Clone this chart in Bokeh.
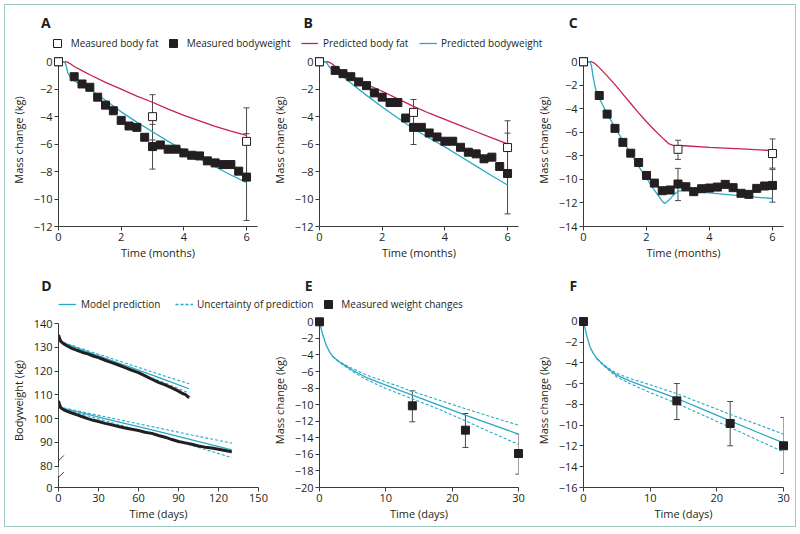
from bokeh.plotting import figure
from bokeh.layouts import column, row
from bokeh.models import (Range1d, Legend, LegendItem, Label, Whisker, TeeHead,
                          ColumnDataSource, FixedTicker, BoxAnnotation, Arrow)
from bokeh.embed import file_html
from bokeh.resources import INLINE

# ---------------- data: panels A-C (time in months, mass change in kg) ----------------
MONTHS_MEAS = [0, 0.5, 0.75, 1.0, 1.25, 1.5, 1.75, 2.0, 2.25, 2.5, 2.75, 3.0,
               3.25, 3.5, 3.75, 4.0, 4.25, 4.5, 4.75, 5.0, 5.25, 5.5, 5.75, 6.0]
FAT_T = [0, 3, 6]
ERR_T = [3, 6]

A_T_PRED = [0, 0.2, 0.25, 0.3, 0.38, 0.5, 0.75, 1, 1.5, 2, 2.5, 3, 3.5, 4, 4.5, 5, 5.5, 6]
A_PRED_WEIGHT = [0, 0, -0.35, -0.8, -1.15, -1.4, -1.7, -2.0, -2.8, -3.65, -4.4, -5.1,
                 -5.8, -6.45, -7.05, -7.65, -8.25, -8.8]
A_PRED_FAT = [0, 0, 0, -0.05, -0.15, -0.35, -0.65, -0.95, -1.5, -2.0, -2.5, -2.95,
              -3.45, -3.9, -4.3, -4.7, -5.05, -5.36]
A_MEAS_WEIGHT = [0, -1.09, -1.62, -1.86, -2.58, -3.16, -3.57, -4.27, -4.68, -4.78, -5.5,
                 -6.18, -6.06, -6.37, -6.37, -6.64, -6.81, -6.86, -7.22, -7.37, -7.49,
                 -7.49, -7.97, -8.4]
A_MEAS_FAT = [0, -4.0, -5.8]
A_FAT_LO, A_FAT_HI = [-5.7, -8.25], [-2.4, -3.36]
A_WT_LO, A_WT_HI = [-7.82, -11.56], [-4.56, -5.24]

B_T_PRED = [0, 0.2, 0.25, 0.3, 0.4, 0.5, 0.75, 1, 1.5, 2, 2.5, 3, 3.5, 4, 4.5, 5, 5.5, 6]
B_PRED_WEIGHT = [0, 0, -0.15, -0.35, -0.55, -0.7, -1.1, -1.55, -2.45, -3.3, -4.1, -4.88,
                 -5.55, -6.2, -6.9, -7.6, -8.3, -8.98]
B_PRED_FAT = [0, 0, 0, -0.03, -0.15, -0.35, -0.7, -1.05, -1.65, -2.15, -2.7, -3.25,
              -3.75, -4.2, -4.65, -5.1, -5.55, -5.98]
B_MEAS_WEIGHT = [0, -0.63, -0.87, -1.09, -1.47, -1.74, -2.27, -2.58, -2.97, -2.97, -4.1,
                 -4.78, -4.78, -5.19, -5.48, -5.79, -5.79, -6.23, -6.59, -6.71, -7.07,
                 -6.95, -7.63, -8.14]
B_MEAS_FAT = [0, -3.69, -6.25]
B_FAT_LO, B_FAT_HI = [-4.63, -8.2], [-2.75, -4.3]
B_WT_LO, B_WT_HI = [-6.03, -11.08], [-3.53, -5.2]

C_T_PRED = [0, 0.2, 0.25, 0.3, 0.38, 0.5, 0.75, 1, 1.25, 1.5, 1.75, 2, 2.25, 2.5, 2.58,
            2.7, 2.85, 3, 3.2, 4, 5, 6]
C_PRED_WEIGHT = [0, 0, -0.3, -1.2, -2.3, -3.1, -4.4, -5.6, -6.7, -7.8, -8.9, -9.9, -10.9,
                 -11.85, -12.05, -11.8, -11.35, -11.0, -10.95, -11.15, -11.4, -11.62]
C_PRED_FAT = [0, 0, 0, -0.05, -0.2, -0.5, -1.2, -1.95, -2.75, -3.55, -4.35, -5.1, -5.8,
              -6.45, -6.65, -6.95, -7.1, -7.13, -7.14, -7.27, -7.4, -7.55]
C_MEAS_WEIGHT = [0, -2.87, -4.45, -5.66, -6.85, -7.77, -8.56, -9.66, -10.31, -10.96, -10.9,
                 -10.39, -10.62, -11.04, -10.79, -10.73, -10.65, -10.42, -10.7, -11.18,
                 -11.27, -10.76, -10.56, -10.51]
C_MEAS_FAT = [0, -7.44, -7.8]
C_FAT_LO, C_FAT_HI = [-8.3, -9.04], [-6.67, -6.56]
C_WT_LO, C_WT_HI = [-11.8, -11.93], [-9.06, -9.15]

# ---------------- data: panel D (bodyweight, kg, vs days) ----------------
D1_DAYS = [0, 1, 2, 4, 7, 10, 14, 18, 22, 26, 30, 35, 40, 45, 50, 55, 60, 65, 70, 75,
           80, 85, 90, 93, 95, 98]
D1_WEIGHT = [135.3, 133.5, 132.5, 131.5, 130.5, 129.6, 128.8, 127.9, 127.3, 126.4, 125.7,
             124.6, 123.6, 122.6, 121.5, 120.4, 119.4, 118.0, 116.6, 115.3, 114.2, 113.0,
             111.6, 110.6, 110.2, 108.8]
D2_DAYS = [0, 1, 2, 4, 7, 10, 14, 18, 22, 26, 30, 35, 40, 45, 50, 55, 60, 65, 70, 75,
           80, 85, 90, 95, 100, 105, 110, 115, 120, 125, 130]
D2_WEIGHT = [107.5, 105.5, 104.5, 103.7, 103.0, 102.4, 101.6, 100.8, 100.0, 99.3, 98.8,
             98.0, 97.4, 96.7, 96.1, 95.5, 95.0, 94.3, 93.8, 92.9, 92.2, 91.2, 90.4, 89.8,
             89.2, 88.5, 88.0, 87.6, 87.1, 86.6, 86.0]
D1_MODEL_DAYS = [0, 20, 40, 60, 80, 98]
D1_MODEL = [132.7, 128.6, 124.5, 120.4, 116.3, 112.6]
D1_UPPER = [132.8, 129.0, 125.3, 121.6, 117.9, 114.7]
D1_LOWER = [132.6, 128.2, 123.8, 119.4, 115.0, 110.8]
D2_MODEL_DAYS = [0, 20, 40, 60, 80, 100, 130]
D2_MODEL = [104.8, 102.1, 99.3, 96.6, 93.9, 91.1, 86.9]
D2_UPPER = [105.0, 102.6, 100.2, 97.8, 95.5, 93.1, 89.7]
D2_LOWER = [104.6, 101.5, 98.3, 95.1, 91.9, 88.7, 83.6]

# ---------------- data: panels E, F (mass change, kg, vs days) ----------------
EF_DAYS_PRED = [0, 0.5, 1, 1.5, 2, 3, 4, 5, 7, 10, 14, 18, 22, 26, 30]
EF_DAYS_BAND = [2, 3, 4, 5, 7, 10, 14, 18, 22, 26, 30]
EF_DAYS_MEAS = [0, 14, 22, 30]
EF_DAYS_ERR = [14, 22, 30]

E_PRED = [0, -1.6, -2.8, -3.6, -4.2, -4.85, -5.35, -5.85, -6.7, -7.65, -8.85, -10.05,
          -11.27, -12.4, -13.56]
E_UPPER = [-4.2, -4.8, -5.25, -5.65, -6.4, -7.25, -8.4, -9.45, -10.5, -11.5, -12.47]
E_LOWER = [-4.2, -4.9, -5.45, -6.0, -6.95, -8.05, -9.3, -10.55, -11.95, -13.4, -14.8]
E_MEAS = [0, -10.14, -13.08, -15.9]
E_LO, E_HI = [-12.07, -15.17, -18.39], [-8.33, -11.07, -13.52]

F_PRED = [0, -1.4, -2.5, -3.1, -3.57, -4.2, -4.7, -5.17, -5.75, -6.46, -7.42, -8.5,
          -9.57, -10.65, -11.7]
F_UPPER = [-3.57, -4.15, -4.6, -5.0, -5.5, -6.1, -6.95, -7.95, -8.95, -9.9, -10.86]
F_LOWER = [-3.57, -4.25, -4.8, -5.35, -6.0, -6.85, -7.9, -9.05, -10.2, -11.4, -12.56]
F_MEAS = [0, -7.65, -9.83, -11.98]
F_LO, F_HI = [-9.45, -11.98, -14.65], [-5.98, -7.71, -9.25]

# ---------------- ticks ----------------
MONTH_TICKS = [0, 2, 4, 6]
AB_Y_TICKS = [-12, -10, -8, -6, -4, -2, 0]
C_Y_TICKS = [-14, -12, -10, -8, -6, -4, -2, 0]
D_X_TICKS = [0, 30, 60, 90, 120, 150]
D_Y_TICKS = [71, 80, 90, 100, 110, 120, 130, 140]
DAY_TICKS = [0, 10, 20, 30]
E_Y_TICKS = [-20, -18, -16, -14, -12, -10, -8, -6, -4, -2, 0]
F_Y_TICKS = [-16, -14, -12, -10, -8, -6, -4, -2, 0]

# ---------------- style ----------------
FONT = "Open Sans"
INK = "#231f20"
AXIS = "#3a3a3a"
WHISK = "#4a4a4a"
RED = "#c8214f"
TEAL = "#2aa9c6"
BORDER = "#9fc6c2"
LW = 1.3
MS = 8
OFF = [-1000]   # off-canvas helper point so legend-only renderers draw their glyph


def make_panel(width, height, xr, yr, mbl, mbr, mbt, mbb):
    p = figure(width=width, height=height, x_range=Range1d(*xr), y_range=Range1d(*yr),
               toolbar_location=None, output_backend="svg",
               min_border_left=mbl, min_border_right=mbr,
               min_border_top=mbt, min_border_bottom=mbb)
    p.grid.visible = False
    p.outline_line_color = None
    return p


def style_axes(p, xlabel, ylabel, xticks, yticks, xbounds, ybounds):
    xa = p.xaxis[0]
    ya = p.yaxis[0]
    for ax in (xa, ya):
        ax.axis_line_color = AXIS
        ax.axis_line_width = 1
        ax.major_tick_line_color = AXIS
        ax.major_tick_out = 4
        ax.major_tick_in = 0
        ax.minor_tick_line_color = None
        ax.major_label_text_font = FONT
        ax.major_label_text_font_size = "11px"
        ax.major_label_text_color = INK
        ax.axis_label_text_font = FONT
        ax.axis_label_text_font_size = "11px"
        ax.axis_label_text_font_style = "normal"
        ax.axis_label_text_color = INK
        ax.major_label_standoff = 2
    xa.axis_label = xlabel
    ya.axis_label = ylabel
    xa.ticker = FixedTicker(ticks=xticks)
    ya.ticker = FixedTicker(ticks=yticks)
    xa.bounds = xbounds
    ya.bounds = ybounds
    xa.axis_label_standoff = 1
    ya.axis_label_standoff = 5


def errbars(p, xs, lo, hi):
    src = ColumnDataSource(dict(base=xs, lower=lo, upper=hi))
    w = Whisker(source=src, base="base", lower="lower", upper="upper", dimension="height",
                line_color=WHISK, line_width=1, level="underlay",
                upper_head=TeeHead(size=6, line_color=WHISK, line_width=1),
                lower_head=TeeHead(size=6, line_color=WHISK, line_width=1))
    p.add_layout(w)


def squares(p, xs, ys, fill):
    p.scatter(xs, ys, marker="square", size=MS, fill_color=fill, line_color=INK,
              line_width=1, level="annotation")


def header(height):
    h = figure(width=800, height=height, x_range=Range1d(0, 800), y_range=Range1d(0, height),
               toolbar_location=None, output_backend="svg", min_border=0)
    h.axis.visible = False
    h.grid.visible = False
    h.outline_line_color = None
    return h


def add_item(h, renderer, label, x, y, gw, standoff):
    lg = Legend(items=[LegendItem(label=label, renderers=[renderer])], location=(x, y),
                orientation="horizontal", padding=0, margin=0, spacing=0,
                glyph_width=gw, glyph_height=20, label_height=20, label_width=10,
                label_standoff=standoff, label_text_font=FONT, label_text_font_size="10px",
                label_text_color=INK, border_line_color=None, background_fill_alpha=0)
    h.add_layout(lg)


def letter(h, text, x, y):
    h.add_layout(Label(x=x, y=y, text=text, text_font=FONT, text_font_style="bold",
                       text_font_size="14px", text_color=INK, text_baseline="middle",
                       text_align="left"))


# ---------------- header 1 (letters A-C, legend) ----------------
h1 = header(50)
letter(h1, "A", 40.6, 28)
letter(h1, "B", 303, 28)
letter(h1, "C", 568.3, 28)
r_fat = h1.scatter(OFF, OFF, marker="square", size=MS, fill_color="white", line_color=INK)
r_wt = h1.scatter(OFF, OFF, marker="square", size=MS, fill_color=INK, line_color=INK)
r_pf = h1.line(OFF, OFF, line_color=RED, line_width=LW)
r_pw = h1.line(OFF, OFF, line_color=TEAL, line_width=LW)
add_item(h1, r_fat, "Measured body fat", 46.7, -3.3, 20, 4)
add_item(h1, r_wt, "Measured bodyweight", 162.7, -3.3, 20, 4)
add_item(h1, r_pf, "Predicted body fat", 301, -3.3, 17, 5)
add_item(h1, r_pw, "Predicted bodyweight", 419, -3.3, 18, 4)

# ---------------- panel A ----------------
pA = make_panel(268, 212, (0, 6.35), (-12, 0.6), 58, 11, 3, 35)
style_axes(pA, "Time (months)", "Mass change (kg)", MONTH_TICKS, AB_Y_TICKS, (0, 6.35), (-12, 0))
pA.line(A_T_PRED, A_PRED_FAT, line_color=RED, line_width=LW)
pA.line(A_T_PRED, A_PRED_WEIGHT, line_color=TEAL, line_width=LW)
errbars(pA, ERR_T, A_FAT_LO, A_FAT_HI)
errbars(pA, ERR_T, A_WT_LO, A_WT_HI)
squares(pA, MONTHS_MEAS, A_MEAS_WEIGHT, INK)
squares(pA, FAT_T, A_MEAS_FAT, "white")

# ---------------- panel B ----------------
pB = make_panel(260, 212, (0, 6.35), (-12, 0.6), 51, 10, 3, 35)
style_axes(pB, "Time (months)", "Mass change (kg)", MONTH_TICKS, AB_Y_TICKS, (0, 6.35), (-12, 0))
pB.line(B_T_PRED, B_PRED_FAT, line_color=RED, line_width=LW)
pB.line(B_T_PRED, B_PRED_WEIGHT, line_color=TEAL, line_width=LW)
errbars(pB, ERR_T, B_FAT_LO, B_FAT_HI)
errbars(pB, ERR_T, B_WT_LO, B_WT_HI)
squares(pB, MONTHS_MEAS, B_MEAS_WEIGHT, INK)
squares(pB, FAT_T, B_MEAS_FAT, "white")

# ---------------- panel C ----------------
pC = make_panel(272, 212, (0, 6.35), (-14, 0.7), 55, 17, 3, 35)
style_axes(pC, "Time (months)", "Mass change (kg)", MONTH_TICKS, C_Y_TICKS, (0, 6.35), (-14, 0))
pC.line(C_T_PRED, C_PRED_FAT, line_color=RED, line_width=LW)
pC.line(C_T_PRED, C_PRED_WEIGHT, line_color=TEAL, line_width=LW)
errbars(pC, ERR_T, C_FAT_LO, C_FAT_HI)
errbars(pC, ERR_T, C_WT_LO, C_WT_HI)
squares(pC, MONTHS_MEAS, C_MEAS_WEIGHT, INK)
squares(pC, FAT_T, C_MEAS_FAT, "white")

# ---------------- header 2 (letters D-F, legend) ----------------
h2 = header(49)
letter(h2, "D", 40.7, 26)
letter(h2, "E", 304.3, 26)
letter(h2, "F", 569, 26)
r_mod = h2.line(OFF, OFF, line_color=TEAL, line_width=LW)
r_unc = h2.line(OFF, OFF, line_color=TEAL, line_width=LW, line_dash="3 2")
r_mwc = h2.scatter(OFF, OFF, marker="square", size=MS, fill_color=INK, line_color=INK)
add_item(h2, r_mod, "Model prediction", 58, -3.3, 18, 5)
add_item(h2, r_unc, "Uncertainty of prediction", 175, -3.3, 18, 4)
add_item(h2, r_mwc, "Measured weight changes", 318.3, -3.3, 20, 3)

# ---------------- panel D ----------------
pD = make_panel(268, 221, (0, 150), (71, 144.3), 58, 10, 2, 45)
style_axes(pD, "Time (days)", "Bodyweight (kg)", D_X_TICKS, D_Y_TICKS, (0, 150), (71, 140))
pD.yaxis[0].major_label_overrides = {71: "0"}
for xs, ys in ((D1_MODEL_DAYS, D1_UPPER), (D1_MODEL_DAYS, D1_LOWER),
               (D2_MODEL_DAYS, D2_UPPER), (D2_MODEL_DAYS, D2_LOWER)):
    pD.line(xs, ys, line_color=TEAL, line_width=1.1, line_dash="3 2")
pD.line(D1_MODEL_DAYS, D1_MODEL, line_color=TEAL, line_width=LW)
pD.line(D2_MODEL_DAYS, D2_MODEL, line_color=TEAL, line_width=LW)
pD.line(D1_DAYS, D1_WEIGHT, line_color=INK, line_width=3)
pD.line(D2_DAYS, D2_WEIGHT, line_color=INK, line_width=3)
# axis break marks
pD.add_layout(BoxAnnotation(left=-0.7, right=0.7, bottom=75.8, top=79.6,
                            fill_color="white", fill_alpha=1, line_alpha=0))
pD.add_layout(Arrow(end=None, x_start=-4.7, y_start=79.6, x_end=4.0, y_end=84.5,
                    line_color=AXIS, line_width=1))
pD.add_layout(Arrow(end=None, x_start=-4.7, y_start=72.6, x_end=4.0, y_end=77.5,
                    line_color=AXIS, line_width=1))

# ---------------- panel E ----------------
pE = make_panel(260, 221, (0, 30), (-20, 1.0), 51, 10, 2, 45)
style_axes(pE, "Time (days)", "Mass change (kg)", DAY_TICKS, E_Y_TICKS, (0, 30), (-20, 0))
pE.line(EF_DAYS_BAND, E_UPPER, line_color=TEAL, line_width=1.1, line_dash="3 2")
pE.line(EF_DAYS_BAND, E_LOWER, line_color=TEAL, line_width=1.1, line_dash="3 2")
pE.line(EF_DAYS_PRED, E_PRED, line_color=TEAL, line_width=LW)
errbars(pE, EF_DAYS_ERR, E_LO, E_HI)
squares(pE, EF_DAYS_MEAS, E_MEAS, INK)

# ---------------- panel F ----------------
pF = make_panel(272, 221, (0, 30), (-16, 0.77), 55, 17, 2, 45)
style_axes(pF, "Time (days)", "Mass change (kg)", DAY_TICKS, F_Y_TICKS, (0, 30), (-16, 0))
pF.line(EF_DAYS_BAND, F_UPPER, line_color=TEAL, line_width=1.1, line_dash="3 2")
pF.line(EF_DAYS_BAND, F_LOWER, line_color=TEAL, line_width=1.1, line_dash="3 2")
pF.line(EF_DAYS_PRED, F_PRED, line_color=TEAL, line_width=LW)
errbars(pF, EF_DAYS_ERR, F_LO, F_HI)
squares(pF, EF_DAYS_MEAS, F_MEAS, INK)

layout = column(h1, row(pA, pB, pC), h2, row(pD, pE, pF))
layout.stylesheets = [
    ":host { position: relative; }"
    " :host::after { content: ''; position: absolute; left: 4px; top: 4px;"
    " width: 790px; height: 521px; border: 1px solid " + BORDER + ";"
    " pointer-events: none; z-index: 10; }"
]

open("out.html", "w").write(file_html(layout, INLINE))
